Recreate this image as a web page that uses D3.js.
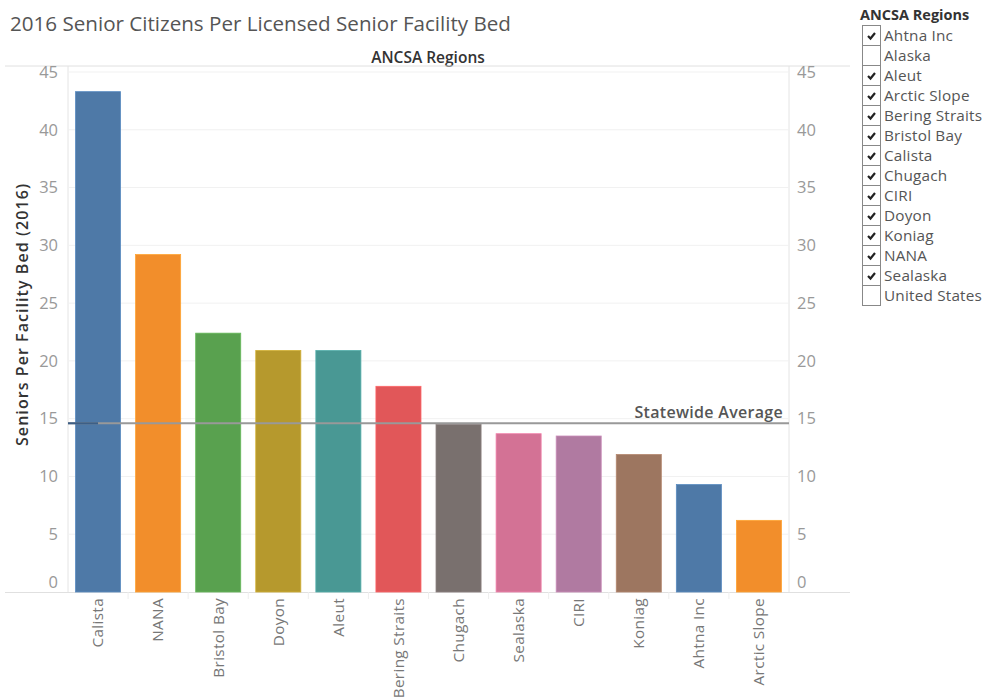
<!DOCTYPE html>
<html><head><meta charset="utf-8">
<script src="https://cdn.jsdelivr.net/npm/d3@7"></script>
<style>body{margin:0;background:#fff;font-family:"Open Sans",Lato,sans-serif;}</style>
</head><body><svg id="c" width="987" height="700"></svg>
<script>
const categories = ["Calista","NANA","Bristol Bay","Doyon","Aleut","Bering Straits","Chugach","Sealaska","CIRI","Koniag","Ahtna Inc","Arctic Slope"];
const values = [43.3,29.2,22.4,20.9,20.9,17.8,14.5,13.7,13.5,11.9,9.3,6.2];
const barColors = ["#4e79a7","#f28e2b","#59a14f","#b6992d","#499894","#e15759","#79706e","#d37295","#b07aa1","#9d7660","#4e79a7","#f28e2b"];
const statewideAverage = 14.6;
const yTicks = [0,5,10,15,20,25,30,35,40,45];
const legendItems = ["Ahtna Inc","Alaska","Aleut","Arctic Slope","Bering Straits","Bristol Bay","Calista","Chugach","CIRI","Doyon","Koniag","NANA","Sealaska","United States"];
const legendChecked = [true,false,true,true,true,true,true,true,true,true,true,true,true,false];

const svg = d3.select("#c");
const L = 68, R = 789, T = 66, B = 592;
const x = d3.scaleBand().domain(categories).range([L,R]).paddingInner(0.25).paddingOuter(0.125);
const y = d3.scaleLinear().domain([0,45]).range([B,72]);

// title
svg.append("text").attr("x",10).attr("y",31).attr("font-size",20.6).attr("fill","#555")
  .text("2016 Senior Citizens Per Licensed Senior Facility Bed");
svg.append("text").attr("x",428).attr("y",63).attr("text-anchor","middle").attr("font-size",15.5)
  .attr("font-weight",600).attr("fill","#333").text("ANCSA Regions");

// frame lines
svg.append("line").attr("x1",5).attr("x2",850).attr("y1",T).attr("y2",T).attr("stroke","#e0e0e0");
svg.append("line").attr("x1",5).attr("x2",850).attr("y1",B+0.5).attr("y2",B+0.5).attr("stroke","#e0e0e0");
svg.append("line").attr("x1",L).attr("x2",L).attr("y1",T).attr("y2",B).attr("stroke","#e4e4e4");
svg.append("line").attr("x1",R).attr("x2",R).attr("y1",T).attr("y2",B).attr("stroke","#e4e4e4");

// gridlines
svg.append("g").selectAll("line").data(yTicks.filter(d=>d>0)).join("line")
  .attr("x1",L).attr("x2",R).attr("y1",d=>y(d)).attr("y2",d=>y(d)).attr("stroke","#f1f1f1");

// axes
const yl = svg.append("g").attr("transform",`translate(${L},0)`)
  .call(d3.axisLeft(y).tickValues(yTicks).tickSize(0).tickPadding(10));
yl.select(".domain").remove();
yl.selectAll("text").attr("font-size",16.5).attr("fill","#999").attr("font-family","'Open Sans',sans-serif")
  .attr("dy",d=>d===0?"-0.25em":"0.32em");
const yr = svg.append("g").attr("transform",`translate(${R},0)`)
  .call(d3.axisRight(y).tickValues(yTicks).tickSize(0).tickPadding(8));
yr.select(".domain").remove();
yr.selectAll("text").attr("font-size",16.5).attr("fill","#999").attr("font-family","'Open Sans',sans-serif")
  .attr("dy",d=>d===0?"-0.25em":"0.32em");

// y label
svg.append("text").attr("transform","translate(28,315) rotate(-90)").attr("text-anchor","middle")
  .attr("font-size",16).attr("font-weight",600).attr("fill","#333")
  .attr("textLength",262).attr("lengthAdjust","spacing").text("Seniors Per Facility Bed (2016)");

// bars
svg.append("g").selectAll("rect").data(categories).join("rect")
  .attr("x",d=>x(d)).attr("width",x.bandwidth())
  .attr("y",(d,i)=>y(values[i])).attr("height",(d,i)=>B-y(values[i]))
  .attr("fill",(d,i)=>barColors[i]).attr("stroke",(d,i)=>d3.color(barColors[i]).brighter(0.4)).attr("stroke-width",0.8);

// x separators
svg.append("g").selectAll("line").data(categories.slice(1)).join("line")
  .attr("x1",d=>x(d)-x.step()*0.125).attr("x2",d=>x(d)-x.step()*0.125)
  .attr("y1",B).attr("y2",B+7).attr("stroke","#eee");

// x labels
const xa = svg.append("g").attr("transform",`translate(0,${B})`).call(d3.axisBottom(x).tickSize(0).tickPadding(0));
xa.select(".domain").remove();
xa.selectAll("text").attr("transform","rotate(-90)").attr("text-anchor","end")
  .attr("x",-6).attr("y",0).attr("dy","0.35em").attr("font-size",15.3).attr("fill","#777")
  .attr("letter-spacing","0.35px").attr("font-family","'Open Sans',sans-serif");

// statewide average
const ay = y(statewideAverage);
svg.append("line").attr("x1",L).attr("x2",R).attr("y1",ay).attr("y2",ay).attr("stroke","#999").attr("stroke-width",2);
svg.append("line").attr("x1",L).attr("x2",x("Calista")+x.bandwidth()/2).attr("y1",ay).attr("y2",ay)
  .attr("stroke","#3d5f86").attr("stroke-width",2);
svg.append("text").attr("x",783).attr("y",ay-5).attr("text-anchor","end").attr("font-size",16)
  .attr("font-weight",600).attr("fill","#555").attr("letter-spacing","0.3px").text("Statewide Average");

// legend
svg.append("text").attr("x",860).attr("y",20).attr("font-size",14.5).attr("font-weight",700).attr("fill","#333").text("ANCSA Regions");
const lg = svg.append("g").selectAll("g").data(legendItems).join("g")
  .attr("transform",(d,i)=>`translate(862,${25+20*i})`);
lg.append("rect").attr("x",0.5).attr("y",0.5).attr("width",18).attr("height",20).attr("fill","#fff").attr("stroke","#888");
lg.filter((d,i)=>legendChecked[i]).append("path").attr("d","M6,11 L8.5,13.5 L13,8").attr("fill","none")
  .attr("stroke","#222").attr("stroke-width",2.2);
lg.append("text").attr("x",22).attr("y",15.5).attr("font-size",15.3).attr("fill","#555").attr("letter-spacing","0.2px").text(d=>d);
</script></body></html>
